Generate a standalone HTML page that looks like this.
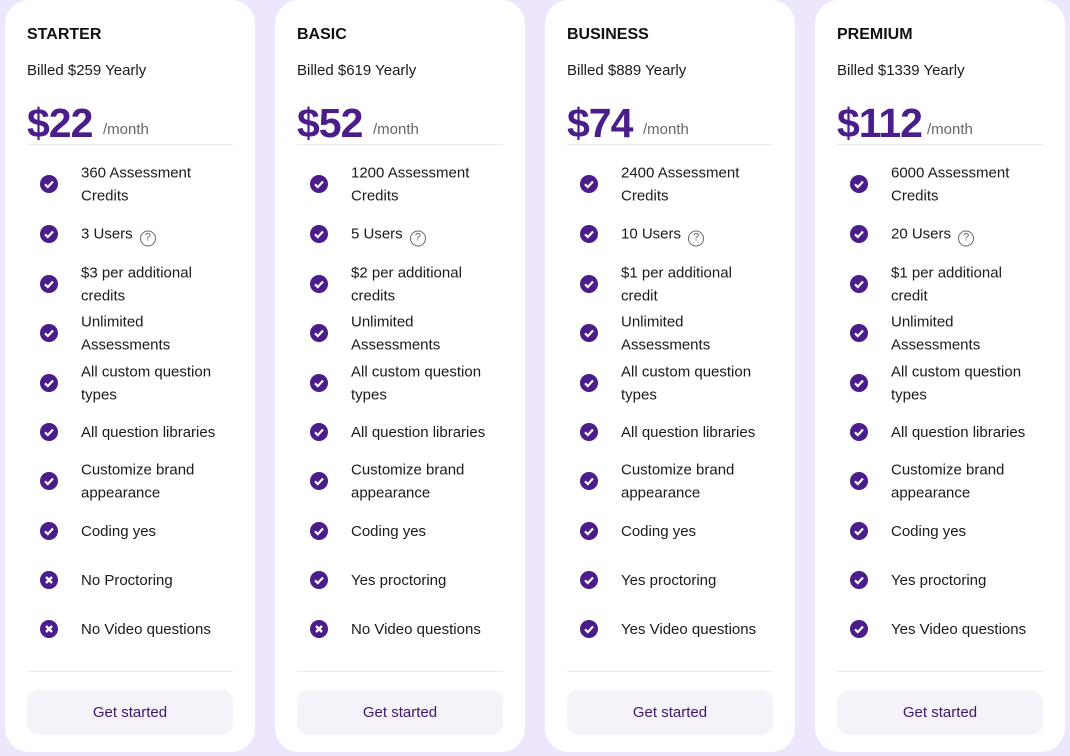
<!DOCTYPE html>
<html><head><meta charset="utf-8"><style>
*{margin:0;padding:0;box-sizing:border-box}
body{width:1070px;height:756px;background:#ede6fc;position:relative;overflow:hidden;font-family:"Liberation Sans",sans-serif;color:#1a1a1a}
.c{position:absolute;top:0;width:250px;height:752px;background:#fff;border-radius:24px}
.t{position:absolute;left:22px;top:26px;font-size:16px;font-weight:bold;color:#111}
.b{position:absolute;left:22px;top:62px;font-size:15px;color:#1a1a1a}
.p{position:absolute;left:22px;top:100px;font-size:41px;color:#4a1d8a;font-weight:bold;letter-spacing:-1px}
.m{position:absolute;top:121px;font-size:15px;color:#666}
.d{position:absolute;left:22px;width:206px;height:1px;background:#ebe8f0}
.r{position:absolute;left:0;height:0;width:250px}
.r i{position:absolute;left:35px;top:-9px;width:18px;height:18px;border-radius:50%;background:#4a1d8a;display:block}
.r i svg{position:absolute;left:0;top:0}
.r span{position:absolute;left:76px;top:1px;transform:translateY(-50%);font-size:15px;line-height:22.5px;width:150px;color:#1a1a1a}
.q{display:inline-block;width:16px;height:16px;border:1.3px solid #666;border-radius:50%;font-size:11px;line-height:13px;text-align:center;color:#666;vertical-align:-2px;margin-left:3px}
.g{position:absolute;left:22px;top:690px;width:206px;height:45px;border-radius:12px;background:#f5f2fa;color:#3b1a6b;font-size:15px;text-align:center;line-height:45px}
</style></head><body>

<div class="c" style="left:5px">
<div class="t">STARTER</div><div class="b">Billed $259 Yearly</div>
<div class="p">$22</div><div class="m" style="left:98px">/month</div>
<div class="d" style="top:144px"></div>
<div class="r" style="top:184px"><i><svg width="18" height="18"><path d="M5 9.3l2.8 2.8 5.2-5.6" stroke="#fff" stroke-width="2.2" fill="none"/></svg></i><span>360 Assessment Credits</span></div>
<div class="r" style="top:234px"><i><svg width="18" height="18"><path d="M5 9.3l2.8 2.8 5.2-5.6" stroke="#fff" stroke-width="2.2" fill="none"/></svg></i><span>3 Users <b class="q" style="font-weight:normal">?</b></span></div>
<div class="r" style="top:284px"><i><svg width="18" height="18"><path d="M5 9.3l2.8 2.8 5.2-5.6" stroke="#fff" stroke-width="2.2" fill="none"/></svg></i><span>$3 per additional credits</span></div>
<div class="r" style="top:333px"><i><svg width="18" height="18"><path d="M5 9.3l2.8 2.8 5.2-5.6" stroke="#fff" stroke-width="2.2" fill="none"/></svg></i><span>Unlimited Assessments</span></div>
<div class="r" style="top:383px"><i><svg width="18" height="18"><path d="M5 9.3l2.8 2.8 5.2-5.6" stroke="#fff" stroke-width="2.2" fill="none"/></svg></i><span>All custom question types</span></div>
<div class="r" style="top:432px"><i><svg width="18" height="18"><path d="M5 9.3l2.8 2.8 5.2-5.6" stroke="#fff" stroke-width="2.2" fill="none"/></svg></i><span>All question libraries</span></div>
<div class="r" style="top:481px"><i><svg width="18" height="18"><path d="M5 9.3l2.8 2.8 5.2-5.6" stroke="#fff" stroke-width="2.2" fill="none"/></svg></i><span>Customize brand appearance</span></div>
<div class="r" style="top:531px"><i><svg width="18" height="18"><path d="M5 9.3l2.8 2.8 5.2-5.6" stroke="#fff" stroke-width="2.2" fill="none"/></svg></i><span>Coding yes</span></div>
<div class="r" style="top:580px"><i><svg width="18" height="18"><path d="M6 6l6 6M12 6l-6 6" stroke="#fff" stroke-width="2.4"/></svg></i><span>No Proctoring</span></div>
<div class="r" style="top:629px"><i><svg width="18" height="18"><path d="M6 6l6 6M12 6l-6 6" stroke="#fff" stroke-width="2.4"/></svg></i><span>No Video questions</span></div>
<div class="d" style="top:671px"></div>
<div class="g">Get started</div>
</div>

<div class="c" style="left:275px">
<div class="t">BASIC</div><div class="b">Billed $619 Yearly</div>
<div class="p">$52</div><div class="m" style="left:98px">/month</div>
<div class="d" style="top:144px"></div>
<div class="r" style="top:184px"><i><svg width="18" height="18"><path d="M5 9.3l2.8 2.8 5.2-5.6" stroke="#fff" stroke-width="2.2" fill="none"/></svg></i><span>1200 Assessment Credits</span></div>
<div class="r" style="top:234px"><i><svg width="18" height="18"><path d="M5 9.3l2.8 2.8 5.2-5.6" stroke="#fff" stroke-width="2.2" fill="none"/></svg></i><span>5 Users <b class="q" style="font-weight:normal">?</b></span></div>
<div class="r" style="top:284px"><i><svg width="18" height="18"><path d="M5 9.3l2.8 2.8 5.2-5.6" stroke="#fff" stroke-width="2.2" fill="none"/></svg></i><span>$2 per additional credits</span></div>
<div class="r" style="top:333px"><i><svg width="18" height="18"><path d="M5 9.3l2.8 2.8 5.2-5.6" stroke="#fff" stroke-width="2.2" fill="none"/></svg></i><span>Unlimited Assessments</span></div>
<div class="r" style="top:383px"><i><svg width="18" height="18"><path d="M5 9.3l2.8 2.8 5.2-5.6" stroke="#fff" stroke-width="2.2" fill="none"/></svg></i><span>All custom question types</span></div>
<div class="r" style="top:432px"><i><svg width="18" height="18"><path d="M5 9.3l2.8 2.8 5.2-5.6" stroke="#fff" stroke-width="2.2" fill="none"/></svg></i><span>All question libraries</span></div>
<div class="r" style="top:481px"><i><svg width="18" height="18"><path d="M5 9.3l2.8 2.8 5.2-5.6" stroke="#fff" stroke-width="2.2" fill="none"/></svg></i><span>Customize brand appearance</span></div>
<div class="r" style="top:531px"><i><svg width="18" height="18"><path d="M5 9.3l2.8 2.8 5.2-5.6" stroke="#fff" stroke-width="2.2" fill="none"/></svg></i><span>Coding yes</span></div>
<div class="r" style="top:580px"><i><svg width="18" height="18"><path d="M5 9.3l2.8 2.8 5.2-5.6" stroke="#fff" stroke-width="2.2" fill="none"/></svg></i><span>Yes proctoring</span></div>
<div class="r" style="top:629px"><i><svg width="18" height="18"><path d="M6 6l6 6M12 6l-6 6" stroke="#fff" stroke-width="2.4"/></svg></i><span>No Video questions</span></div>
<div class="d" style="top:671px"></div>
<div class="g">Get started</div>
</div>

<div class="c" style="left:545px">
<div class="t">BUSINESS</div><div class="b">Billed $889 Yearly</div>
<div class="p">$74</div><div class="m" style="left:98px">/month</div>
<div class="d" style="top:144px"></div>
<div class="r" style="top:184px"><i><svg width="18" height="18"><path d="M5 9.3l2.8 2.8 5.2-5.6" stroke="#fff" stroke-width="2.2" fill="none"/></svg></i><span>2400 Assessment Credits</span></div>
<div class="r" style="top:234px"><i><svg width="18" height="18"><path d="M5 9.3l2.8 2.8 5.2-5.6" stroke="#fff" stroke-width="2.2" fill="none"/></svg></i><span>10 Users <b class="q" style="font-weight:normal">?</b></span></div>
<div class="r" style="top:284px"><i><svg width="18" height="18"><path d="M5 9.3l2.8 2.8 5.2-5.6" stroke="#fff" stroke-width="2.2" fill="none"/></svg></i><span>$1 per additional<br>credit</span></div>
<div class="r" style="top:333px"><i><svg width="18" height="18"><path d="M5 9.3l2.8 2.8 5.2-5.6" stroke="#fff" stroke-width="2.2" fill="none"/></svg></i><span>Unlimited Assessments</span></div>
<div class="r" style="top:383px"><i><svg width="18" height="18"><path d="M5 9.3l2.8 2.8 5.2-5.6" stroke="#fff" stroke-width="2.2" fill="none"/></svg></i><span>All custom question types</span></div>
<div class="r" style="top:432px"><i><svg width="18" height="18"><path d="M5 9.3l2.8 2.8 5.2-5.6" stroke="#fff" stroke-width="2.2" fill="none"/></svg></i><span>All question libraries</span></div>
<div class="r" style="top:481px"><i><svg width="18" height="18"><path d="M5 9.3l2.8 2.8 5.2-5.6" stroke="#fff" stroke-width="2.2" fill="none"/></svg></i><span>Customize brand appearance</span></div>
<div class="r" style="top:531px"><i><svg width="18" height="18"><path d="M5 9.3l2.8 2.8 5.2-5.6" stroke="#fff" stroke-width="2.2" fill="none"/></svg></i><span>Coding yes</span></div>
<div class="r" style="top:580px"><i><svg width="18" height="18"><path d="M5 9.3l2.8 2.8 5.2-5.6" stroke="#fff" stroke-width="2.2" fill="none"/></svg></i><span>Yes proctoring</span></div>
<div class="r" style="top:629px"><i><svg width="18" height="18"><path d="M5 9.3l2.8 2.8 5.2-5.6" stroke="#fff" stroke-width="2.2" fill="none"/></svg></i><span>Yes Video questions</span></div>
<div class="d" style="top:671px"></div>
<div class="g">Get started</div>
</div>

<div class="c" style="left:815px">
<div class="t">PREMIUM</div><div class="b">Billed $1339 Yearly</div>
<div class="p">$112</div><div class="m" style="left:112px">/month</div>
<div class="d" style="top:144px"></div>
<div class="r" style="top:184px"><i><svg width="18" height="18"><path d="M5 9.3l2.8 2.8 5.2-5.6" stroke="#fff" stroke-width="2.2" fill="none"/></svg></i><span>6000 Assessment Credits</span></div>
<div class="r" style="top:234px"><i><svg width="18" height="18"><path d="M5 9.3l2.8 2.8 5.2-5.6" stroke="#fff" stroke-width="2.2" fill="none"/></svg></i><span>20 Users <b class="q" style="font-weight:normal">?</b></span></div>
<div class="r" style="top:284px"><i><svg width="18" height="18"><path d="M5 9.3l2.8 2.8 5.2-5.6" stroke="#fff" stroke-width="2.2" fill="none"/></svg></i><span>$1 per additional<br>credit</span></div>
<div class="r" style="top:333px"><i><svg width="18" height="18"><path d="M5 9.3l2.8 2.8 5.2-5.6" stroke="#fff" stroke-width="2.2" fill="none"/></svg></i><span>Unlimited Assessments</span></div>
<div class="r" style="top:383px"><i><svg width="18" height="18"><path d="M5 9.3l2.8 2.8 5.2-5.6" stroke="#fff" stroke-width="2.2" fill="none"/></svg></i><span>All custom question types</span></div>
<div class="r" style="top:432px"><i><svg width="18" height="18"><path d="M5 9.3l2.8 2.8 5.2-5.6" stroke="#fff" stroke-width="2.2" fill="none"/></svg></i><span>All question libraries</span></div>
<div class="r" style="top:481px"><i><svg width="18" height="18"><path d="M5 9.3l2.8 2.8 5.2-5.6" stroke="#fff" stroke-width="2.2" fill="none"/></svg></i><span>Customize brand appearance</span></div>
<div class="r" style="top:531px"><i><svg width="18" height="18"><path d="M5 9.3l2.8 2.8 5.2-5.6" stroke="#fff" stroke-width="2.2" fill="none"/></svg></i><span>Coding yes</span></div>
<div class="r" style="top:580px"><i><svg width="18" height="18"><path d="M5 9.3l2.8 2.8 5.2-5.6" stroke="#fff" stroke-width="2.2" fill="none"/></svg></i><span>Yes proctoring</span></div>
<div class="r" style="top:629px"><i><svg width="18" height="18"><path d="M5 9.3l2.8 2.8 5.2-5.6" stroke="#fff" stroke-width="2.2" fill="none"/></svg></i><span>Yes Video questions</span></div>
<div class="d" style="top:671px"></div>
<div class="g">Get started</div>
</div>

</body></html>
